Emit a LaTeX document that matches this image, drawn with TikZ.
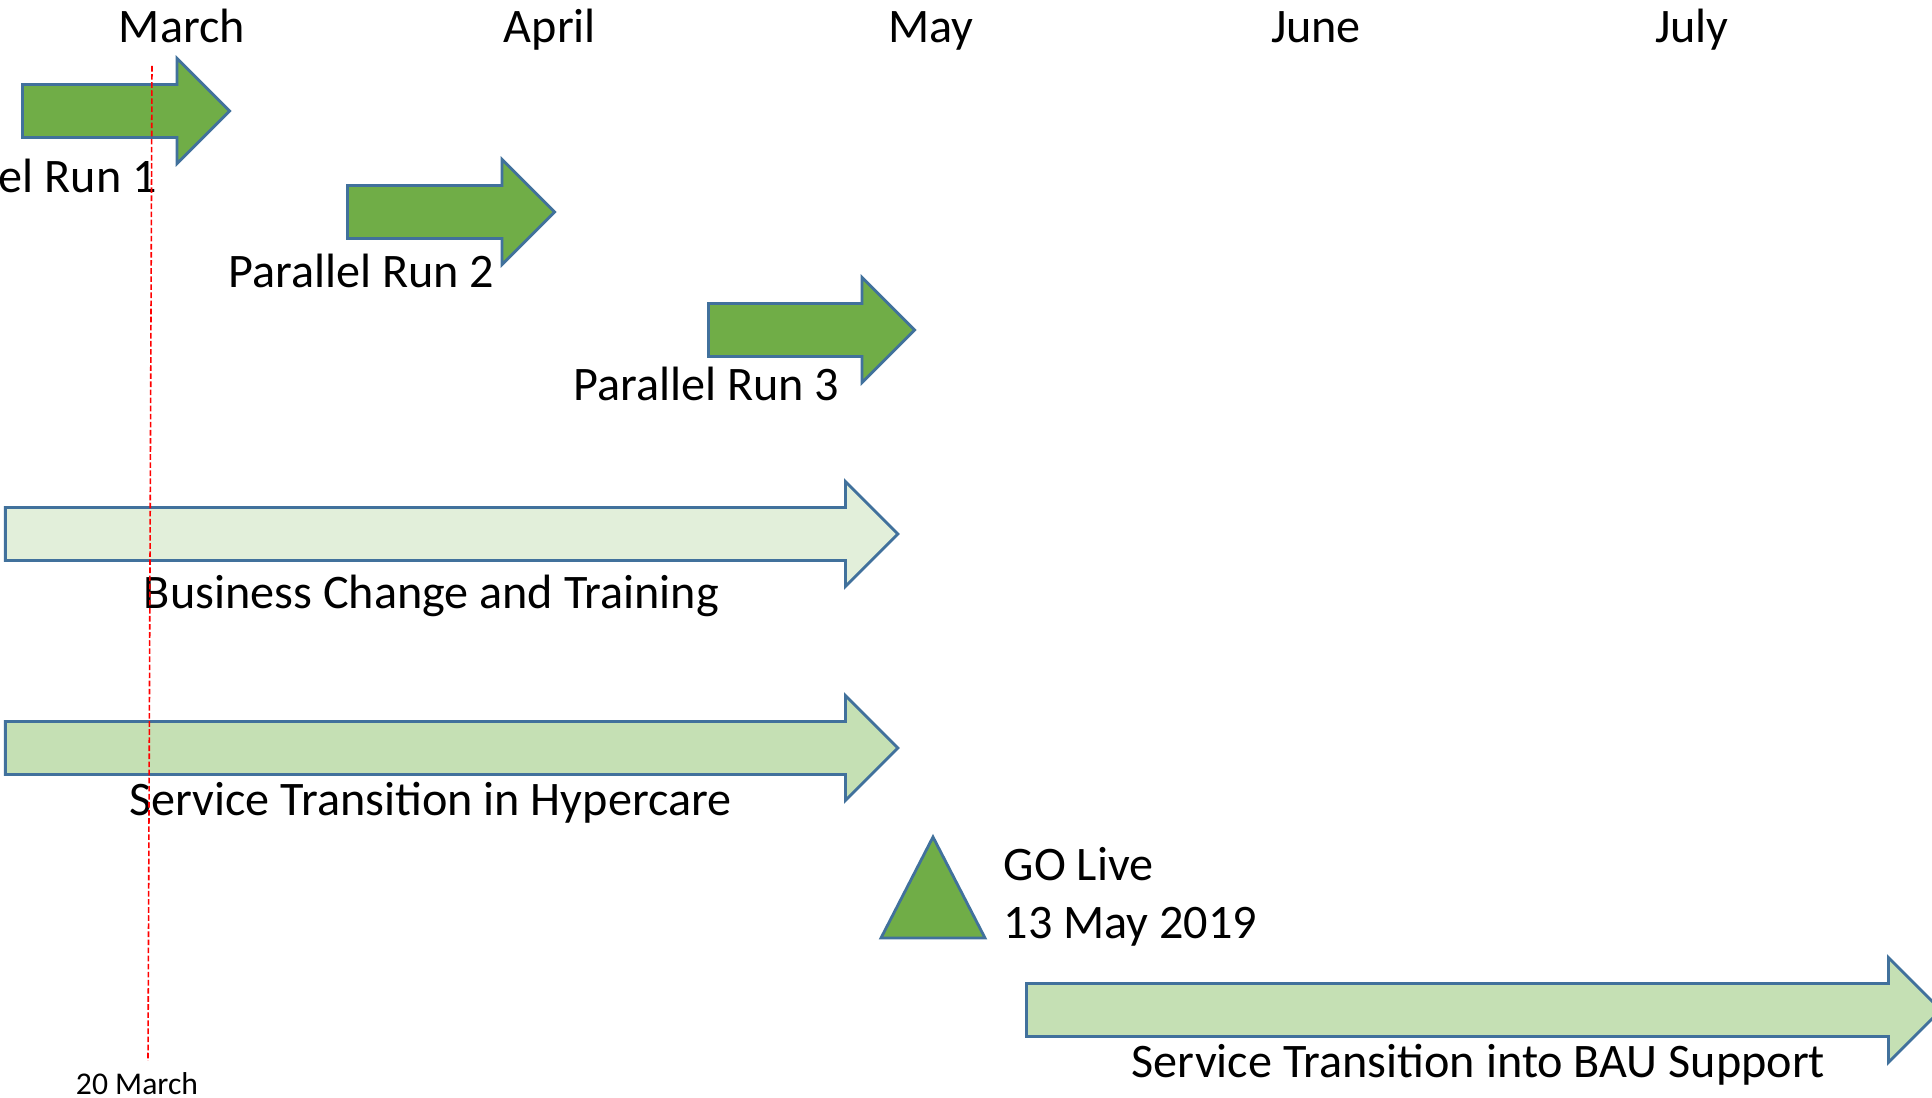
\documentclass[tikz,border=0pt]{standalone}
\usepackage{fontspec}
\setmainfont{Carlito}
\usepackage{xcolor}
\usepackage{tikz}
\usetikzlibrary{shapes,arrows,positioning}
\definecolor{phasegreen}{HTML}{70AD47}
\definecolor{palegreen}{HTML}{E2EFDA}
\definecolor{lightgreen}{HTML}{C5E0B4}
\definecolor{edgeblue}{HTML}{41719C}

\begin{document}
\begin{tikzpicture}
 	[x=0.01cm, y=-0.01cm, font=\fontsize{13.7pt}{16pt}\selectfont,
 	% STYLES
 	% The month style is used for the month names on the top row
 	month/.style={inner sep=0pt, anchor=base},
 	% The phase style is used to draw the block arrows of the plan
 	phase/.style={single arrow, draw=edgeblue, line width=0.8pt, inner xsep=0pt, inner ysep=0.25cm, single arrow head extend=0.26cm, anchor=tail},
 	% The phasename style is used to write the name under each arrow
 	phasename/.style={inner sep=0pt, anchor=base},
 	milestone/.style={draw=edgeblue, line width=0.8pt, fill=phasegreen, line join=miter},
 	nowline/.style={draw=red, line width=0.45pt, dash pattern=on 1.6pt off 0.7pt}]
 	
 	\useasboundingbox (0,0) rectangle (1932,1098);
 	\clip (0,0) rectangle (1932,1098);
 	
 	% months on top
 	\foreach \m/\x in {March/182, April/550, May/931, June/1316, July/1692}
 	\node[month] (\m) at (\x,43) {\m};
 	
 	% parallel runs
 	\node[phase, fill=phasegreen, minimum height=2.07cm] (Run1) at (21,111) {};
 	\node[phase, fill=phasegreen, minimum height=2.07cm] (Run2) at (346,212) {};
 	\node[phase, fill=phasegreen, minimum height=2.06cm] (Run3) at (707,330) {};
 	\node[phasename, below = 0.54cm of Run1.south, anchor=base, xshift=-0.89cm] (Run1name) {Parallel Run 1};
 	\node[phasename, below = 0.48cm of Run2.south, anchor=base, xshift=-0.765cm] (Run2name) {Parallel Run 2};
 	\node[phasename, below = 0.43cm of Run3.south, anchor=base, xshift=-0.92cm] (Run3name) {Parallel Run 3};
 	
 	% long phases
 	\node[phase, fill=palegreen, minimum height=8.92cm] (Business) at (4,534) {};
 	\node[phase, fill=lightgreen, minimum height=8.92cm] (Hypercare) at (4,748) {};
 	\node[phase, fill=lightgreen, minimum height=9.14cm] (BAU) at (1025,1010) {};
 	\node[phasename, below = 0.47cm of Business.south, anchor=base, xshift=-0.07cm] (Businessname) {Business Change and Training};
 	\node[phasename, below = 0.40cm of Hypercare.south, anchor=base, xshift=-0.08cm] (Hypercarename) {Service Transition in Hypercare};
 	\node[phasename, below = 0.40cm of BAU.south, anchor=base, xshift=0.08cm] (BAUname) {Service Transition into BAU Support};
 	
 	% go live milestone
 	\draw[milestone] (881,938) -- (933,837) -- (985,938) -- cycle;
 	\node[phasename, anchor=base west] (GoLive) at (1003,881) {GO Live};
 	\node[phasename, below = 0.57cm of GoLive.base west, anchor=base west] (GoDate) {13 May 2019};
 	
 	% today line
 	\coordinate (nowtop) at (152,66);
 	\coordinate (nowbottom) at (148,1061);
 	\draw[nowline] (nowtop) -- (nowbottom);
 	\node[inner sep=0pt, anchor=base, font=\fontsize{9pt}{11pt}\selectfont] (Mar20) at (137,1095) {20 March};
 	
\end{tikzpicture}
\end{document}
